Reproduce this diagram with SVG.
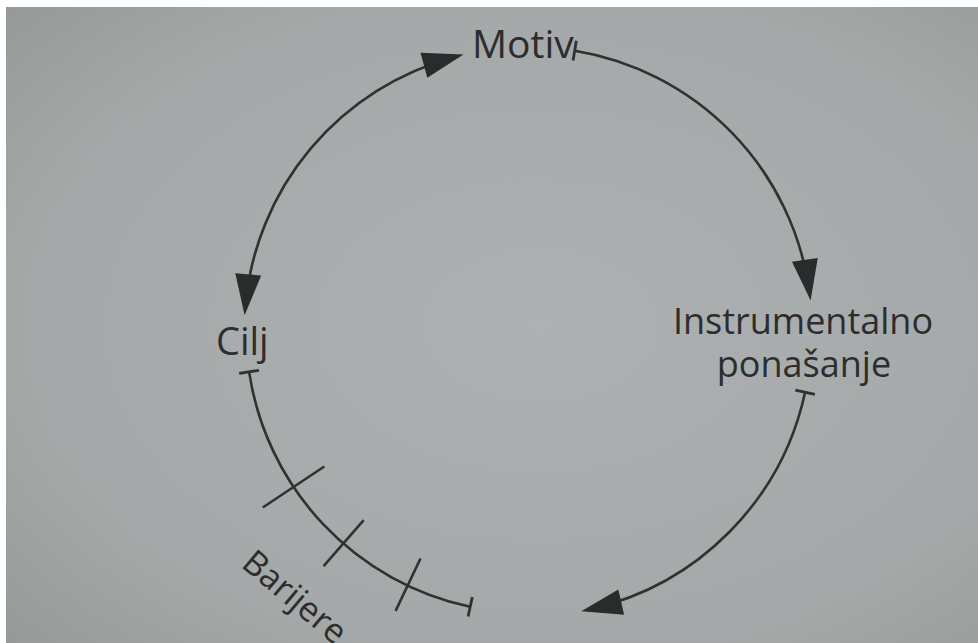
<svg xmlns="http://www.w3.org/2000/svg" width="978" height="643" viewBox="0 0 978 643">
  <style>
    .lbl { font-family: "Open Sans", "Noto Sans", "Liberation Sans", sans-serif; fill: #2c2d2e; }
    .arc { fill: none; stroke: #303132; stroke-width: 2.6; }
    .bar { stroke: #303132; stroke-width: 2.6; }
  </style>
  <defs>
    <radialGradient id="bg" cx="0.55" cy="0.5" r="0.75">
      <stop offset="0" stop-color="#aeb1b1"/>
      <stop offset="0.7" stop-color="#a5a8a8"/>
      <stop offset="1" stop-color="#959998"/>
    </radialGradient>
    <marker id="arrow" markerUnits="userSpaceOnUse" markerWidth="44" markerHeight="28" refX="31" refY="13" orient="auto-start-reverse" overflow="visible">
      <path d="M0,0 L41,13 L0,26 z" fill="#2a2b2c"/>
    </marker>
    <marker id="tick" markerUnits="userSpaceOnUse" markerWidth="4" markerHeight="24" refX="0" refY="0" orient="auto" overflow="visible">
      <path d="M0,-10 L0,10" stroke="#303132" stroke-width="2.8"/>
    </marker>
  </defs>

  <rect x="0" y="0" width="978" height="643" fill="#ffffff"/>
  <rect x="6" y="7" width="972" height="636" fill="url(#bg)"/>

  <g id="connectors">
    <path id="c-motiv-instr" class="arc" d="M574.7,50.7 A283,283 0 0 1 809.2,290.6" marker-start="url(#tick)" marker-end="url(#arrow)"/>
    <path id="c-instr-bottom" class="arc" d="M805.1,392.2 A284,284 0 0 1 591,609" marker-start="url(#tick)" marker-end="url(#arrow)"/>
    <path id="c-cilj-motiv" class="arc" d="M245.5,305.3 A284,283 0 0 1 453.8,57.2" marker-start="url(#arrow)" marker-end="url(#arrow)"/>
    <path id="c-cilj-barijere" class="arc" d="M249.1,371.8 A283,283 0 0 0 470.2,606.8" marker-start="url(#tick)" marker-end="url(#tick)"/>
    <line class="bar" x1="324.3" y1="466.5" x2="262.8" y2="507.5"/>
    <line class="bar" x1="363.7" y1="520.2" x2="323.6" y2="566.2"/>
    <line class="bar" x1="420.5" y1="558.5" x2="395.6" y2="610.9"/>
  </g>

  <g id="motiv">
    <text class="lbl" x="472" y="58" font-size="39">Motiv</text>
  </g>
  <g id="instrumentalno">
    <text class="lbl" x="803" y="334" font-size="36" text-anchor="middle">Instrumentalno</text>
    <text class="lbl" x="804" y="377" font-size="36" text-anchor="middle">ponašanje</text>
  </g>
  <g id="cilj">
    <text class="lbl" x="216" y="355" font-size="38">Cilj</text>
  </g>
  <g id="barijere">
    <text class="lbl" x="0" y="0" font-size="34" transform="translate(240,566) rotate(40)">Barijere</text>
  </g>
</svg>
